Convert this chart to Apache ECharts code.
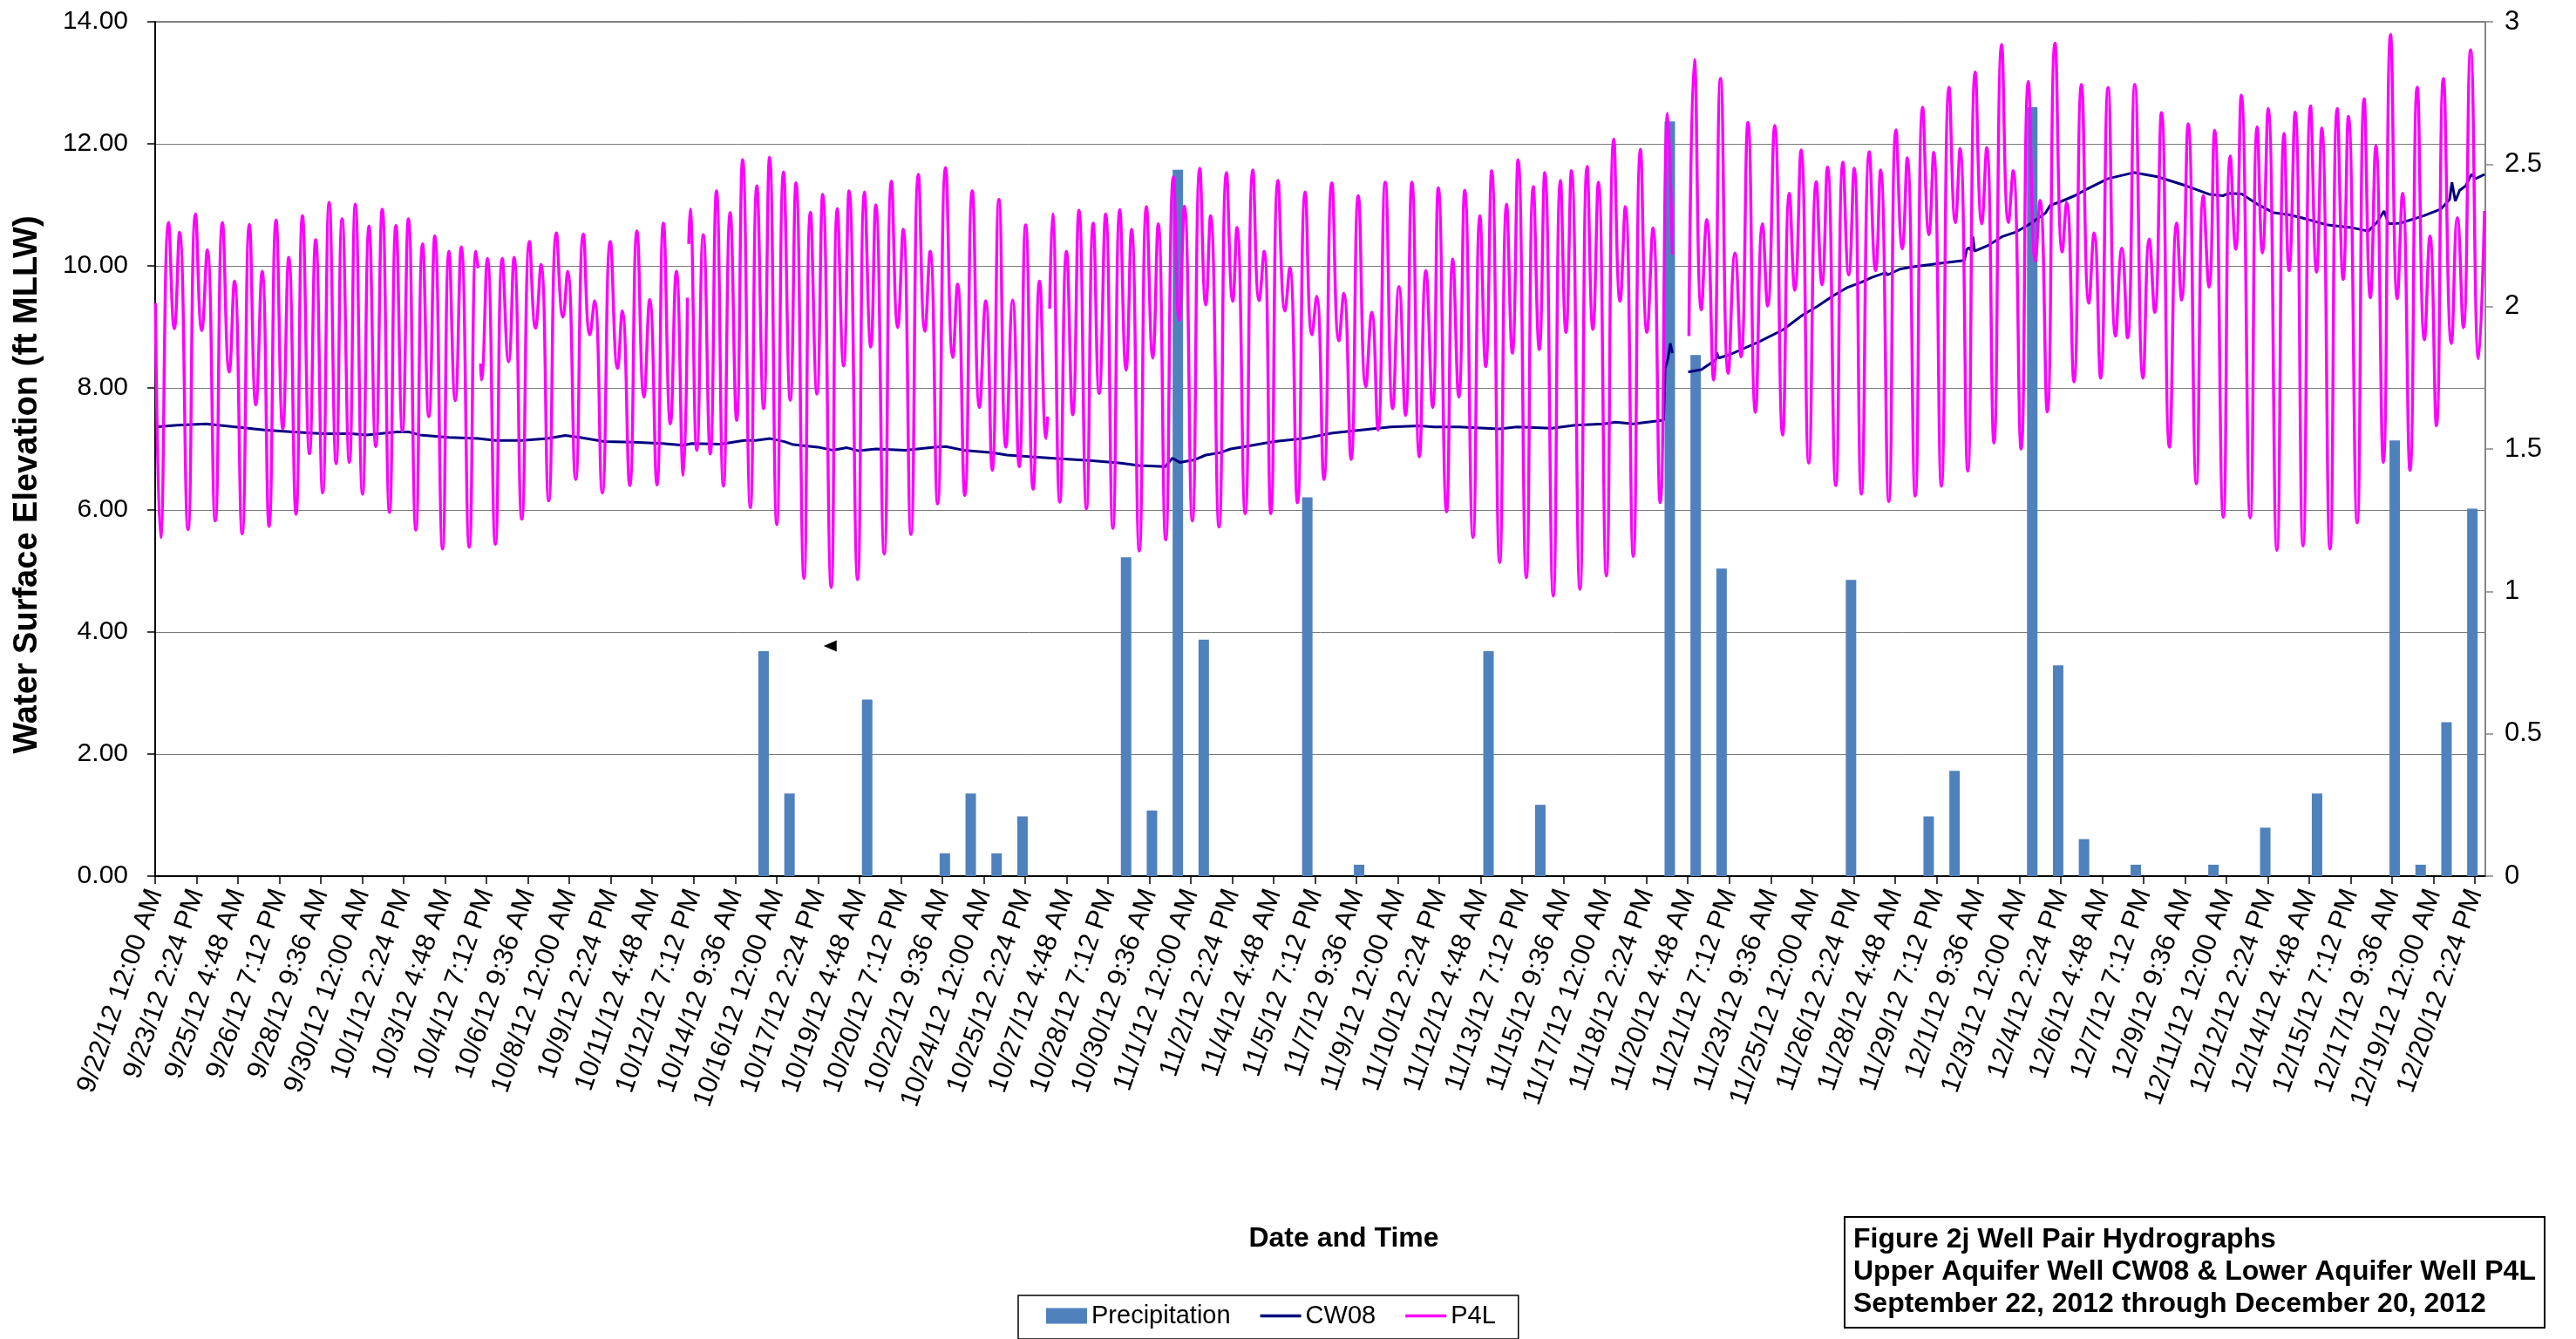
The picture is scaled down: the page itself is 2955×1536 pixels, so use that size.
<!DOCTYPE html>
<html>
<head>
<meta charset="utf-8">
<title>Figure 2j Well Pair Hydrographs</title>
<script src="https://cdn.jsdelivr.net/npm/echarts@6/dist/echarts.min.js"></script>
<style>
html,body{margin:0;padding:0;background:#fff;}
#chart{width:2955px;height:1536px;}
</style>
</head>
<body>
<div id="chart"></div>
<script>
// ---- DATA ----
// time values are days since 9/22/12 12:00 AM
const startDateUTC = Date.UTC(2012, 8, 22);

const precipDates = ['10/15','10/16','10/19','10/22','10/23','10/24','10/25','10/29','10/30','10/31','11/1','11/5','11/7','11/12','11/14','11/19','11/20','11/21','11/26','11/29','11/30','12/3','12/4','12/5','12/7','12/10','12/12','12/14','12/17','12/18','12/19','12/20'];
const precipValues = [0.79,0.29,0.62,0.08,0.29,0.08,0.21,1.12,0.23,2.48,0.83,1.33,0.04,0.79,0.25,2.65,1.83,1.08,1.04,0.21,0.37,2.70,0.74,0.13,0.04,0.04,0.17,0.29,1.53,0.04,0.54,1.29];

const cw08Data = [
[0.01,7.36],[0.85,7.39],[1.97,7.41],[3.10,7.36],[4.22,7.31],[5.34,7.28],[6.46,7.25],[7.59,7.25],[8.15,7.23],
[9.33,7.28],[9.78,7.28],[10.22,7.23],[11.35,7.19],[12.47,7.17],[13.14,7.14],[14.15,7.14],[15.16,7.17],[15.84,7.22],[16.40,7.19],
[17.35,7.12],[18.47,7.11],[19.60,7.09],[20.38,7.06],[20.72,7.09],[21.84,7.08],[22.74,7.14],[23.19,7.14],[23.75,7.17],[24.31,7.12],[24.65,7.07],
[25.60,7.03],[26.16,6.98],[26.72,7.02],[27.17,6.97],[27.85,7.00],[28.97,6.98],[30.09,7.03],[30.54,7.04],[31.21,6.98],[32.33,6.94],[32.90,6.90],
[33.85,6.87],[34.97,6.84],[36.09,6.81],[37.22,6.77],[38.00,6.73],[39.01,6.71],[39.29,6.85],[39.57,6.78],[40.13,6.82],[40.58,6.90],[41.14,6.94],
[41.54,7.00],[42.10,7.04],[43.22,7.12],[44.34,7.17],[45.47,7.26],[46.59,7.31],[47.71,7.36],[48.83,7.38],[49.39,7.36],
[50.35,7.36],[51.92,7.33],[52.59,7.36],[53.94,7.34],[54.84,7.39],[55.96,7.41],[56.41,7.44],[57.08,7.41],[57.64,7.44],
[58.26,7.47],[58.32,8.32],[58.43,8.48],[58.52,8.73],[58.60,8.57],[58.90,null],[59.21,8.26],[59.72,8.30],[60.28,8.46],[60.31,8.58],[60.39,8.49],
[60.84,8.55],[61.96,8.76],[62.86,8.95],[63.65,9.20],[64.21,9.34],[64.77,9.50],[65.33,9.64],[65.89,9.73],
[66.29,9.81],[66.85,9.89],[66.90,9.85],[67.41,9.95],[67.97,9.99],[69.09,10.05],[69.88,10.09],[69.97,10.27],[70.05,10.30],[70.16,10.24],[70.21,10.48],[70.27,10.24],
[70.77,10.33],[71.34,10.48],[71.90,10.56],[72.46,10.70],[73.02,10.87],[73.19,10.99],[73.58,11.05],[74.14,11.15],
[74.53,11.24],[75.43,11.43],[76.44,11.53],[77.34,11.46],[78.46,11.31],[79.36,11.17],[79.87,11.15],[80.09,11.19],[80.59,11.18],[81.16,11.02],[81.83,10.87],[82.39,10.84],
[82.90,10.79],[83.91,10.67],[84.80,10.63],[85.48,10.57],[85.81,10.71],[86.09,10.90],[86.26,10.69],[86.71,10.70],[87.61,10.82],[88.28,10.93],[88.62,11.09],[88.71,11.37],[88.84,11.06],[89.01,11.24],[89.24,11.31],[89.46,11.50],[89.63,11.43],[89.97,11.50]
];

const p4lData = [
[0.01,9.39],[0.21,5.55],[0.52,10.71],[0.74,8.97],[0.94,10.55],[1.27,5.68],[1.56,10.85],[1.80,8.94],[2.01,10.26],[2.32,5.82],
[2.60,10.71],[2.86,8.26],[3.06,9.75],[3.36,5.61],[3.64,10.68],[3.89,7.72],[4.13,9.91],[4.40,5.73],[4.67,10.75],[4.93,7.33],
[5.16,10.14],[5.44,5.93],[5.69,10.82],[5.96,6.92],[6.20,10.43],[6.47,6.28],[6.72,11.04],[6.99,6.76],[7.22,10.77],[7.50,6.78],
[7.73,11.01],[8.01,6.26],
[8.26,10.65],[8.52,7.04],[8.77,10.93],[9.05,5.96],[9.30,10.66],[9.55,7.29],[9.78,10.77],[10.07,5.67],[10.33,10.36],[10.57,7.53],
[10.80,10.49],[11.10,5.36],[11.35,10.24],[11.59,7.79],[11.82,10.31],[12.13,5.39],[12.39,10.24],[12.47,9.96],[12.52,null],[12.57,8.40],
[12.60,8.13],[12.83,10.12],[13.14,5.44],[13.41,10.12],[13.65,8.43],[13.86,10.14],[14.16,5.85],[14.46,10.40],[14.69,8.98],[14.90,10.02],
[15.20,6.15],[15.50,10.54],[15.75,9.16],[15.93,9.91],[16.24,6.50],
[16.54,10.52],[16.79,8.87],[16.97,9.43],[17.27,6.28],[17.58,10.40],[17.86,8.32],[18.04,9.26],[18.33,6.40],[18.61,10.57],[18.88,7.85],
[19.10,9.45],[19.38,6.41],[19.63,10.70],[19.90,7.41],[20.13,9.91],[20.40,6.57],[20.56,9.48],[20.585,null],[20.61,10.36],[20.66,10.93],
[20.92,6.98],[21.17,10.51],[21.44,6.92],[21.68,11.23],[21.95,6.39],[22.21,10.87],[22.46,7.47],[22.69,11.74],[22.99,6.04],[23.24,11.31],
[23.50,7.66],[23.73,11.78],[24.01,5.76],[24.27,11.54],[24.53,7.80],
[24.75,11.36],[25.06,4.88],[25.31,10.88],[25.56,7.90],[25.78,11.17],[26.11,4.73],[26.35,10.94],[26.59,8.36],[26.80,11.23],[27.13,4.86],
[27.40,11.21],[27.64,8.67],[27.83,11.00],[28.16,5.28],[28.44,11.39],[28.68,8.99],[28.89,10.60],[29.19,5.60],[29.48,11.50],[29.73,8.93],
[29.93,10.24],[30.22,6.10],[30.53,11.61],[30.81,8.50],[30.99,9.70],[31.27,6.24],[31.56,11.23],[31.84,7.68],[32.08,9.43],[32.33,6.65],
[32.59,11.09],[32.86,7.03],
[33.12,9.44],[33.37,6.71],[33.62,10.67],[33.91,6.34],[34.16,9.75],[34.41,7.17],[34.47,7.53],[34.51,null],[34.55,9.30],[34.66,10.85],
[34.94,6.13],[35.20,10.24],[35.44,7.56],[35.68,10.91],[35.97,6.02],[36.23,10.70],[36.46,7.91],[36.71,10.85],[36.99,5.70],[37.26,10.92],
[37.50,8.29],[37.71,10.60],[38.01,5.33],[38.29,10.97],[38.53,8.49],[38.74,10.69],[39.03,5.51],[39.33,11.46],[39.55,9.11],[39.75,10.98],
[40.06,5.82],[40.35,11.60],[40.58,9.36],[40.76,10.82],[41.09,5.72],
[41.38,11.53],[41.62,9.42],[41.78,10.63],[42.10,5.94],[42.40,11.57],[42.64,9.43],[42.83,10.24],[43.09,5.94],[43.37,11.40],[43.64,9.26],
[43.82,9.97],[44.12,6.12],[44.42,11.21],[44.68,8.87],[44.86,9.50],[45.14,6.50],[45.45,11.36],[45.72,8.77],[45.91,9.55],[46.19,6.83],
[46.47,11.15],[46.76,8.02],[46.99,9.24],[47.23,7.31],[47.51,11.37],[47.80,7.66],[48.04,9.66],[48.29,7.55],[48.54,11.37],[48.83,6.87],
[49.08,9.92],[49.34,7.68],
[49.56,11.28],[49.88,5.97],[50.12,10.11],[50.35,7.85],[50.58,11.24],[50.90,5.55],[51.17,10.82],[51.39,8.35],[51.62,11.56],[51.93,5.14],
[52.20,11.01],[52.42,8.57],[52.64,11.74],[52.96,4.89],[53.23,11.30],[53.46,8.63],[53.67,11.53],[54.00,4.59],[54.28,11.40],[54.49,8.91],
[54.70,11.56],[55.03,4.70],[55.31,11.63],[55.53,8.96],[55.74,11.37],[56.05,4.92],[56.34,12.08],[56.58,9.42],[56.78,10.97],[57.09,5.24],
[57.37,11.91],[57.62,8.91],
[57.85,10.62],[58.13,6.12],[58.42,12.50],[58.60,10.18],[58.90,null],[59.24,8.85],[59.45,13.38],[59.72,9.28],[59.93,10.76],[60.19,8.13],
[60.46,13.07],[60.76,8.24],[61.02,10.21],[61.25,8.51],[61.52,12.35],[61.81,7.60],[62.08,10.69],[62.28,9.34],[62.55,12.30],[62.86,7.23],
[63.12,11.19],[63.33,9.60],[63.57,11.90],[63.87,6.77],[64.16,11.38],[64.38,9.69],[64.59,11.62],[64.91,6.40],[65.19,11.70],[65.41,9.85],
[65.62,11.60],[65.90,6.26],
[66.21,11.87],[66.45,9.92],[66.64,11.57],[66.96,6.14],[67.24,12.23],[67.48,10.28],[67.67,11.77],[67.98,6.23],[68.27,12.60],[68.51,10.51],
[68.69,11.86],[68.99,6.39],[69.29,12.93],[69.53,10.71],[69.71,11.92],[70.01,6.64],[70.30,13.18],[70.55,10.69],[70.74,11.94],[71.02,7.10],
[71.32,13.63],[71.58,10.71],[71.76,11.56],[72.07,7.00],[72.35,13.02],[72.62,10.08],[72.80,11.07],[73.08,7.61],[73.38,13.65],[73.66,10.23],
[73.83,11.04],[74.11,8.10],
[74.40,12.97],[74.69,9.39],[74.89,10.54],[75.14,8.16],[75.43,12.92],[75.72,8.85],[75.96,10.29],[76.18,8.82],[76.46,12.97],[76.78,8.16],
[77.02,10.44],[77.23,9.24],[77.49,12.51],[77.80,7.03],[78.08,10.70],[78.27,9.44],[78.52,12.33],[78.84,6.43],[79.11,11.15],[79.33,9.65],
[79.54,12.22],[79.88,5.88],[80.15,11.80],[80.36,10.27],[80.57,12.80],[80.92,5.87],[81.19,12.28],[81.39,10.21],[81.61,12.58],[81.95,5.34],
[82.23,12.17],
[82.42,9.92],[82.65,12.52],[82.96,5.41],[83.25,12.62],[83.48,9.90],[83.68,12.26],[84.00,5.36],[84.28,12.58],[84.51,9.78],[84.71,12.45],
[85.05,5.79],[85.32,12.74],[85.56,9.48],[85.77,11.97],[86.06,6.78],[86.34,13.79],[86.60,9.46],[86.80,11.19],[87.09,6.65],[87.37,12.93],
[87.65,8.79],[87.86,10.49],[88.11,7.38],[88.38,13.07],[88.69,8.73],[88.92,10.79],[89.15,8.99],[89.43,13.54],[89.74,8.48],[89.97,10.90]
];

const cursorMark = [26.07, 3.77];

const titleLines = [
  'Figure 2j Well Pair Hydrographs',
  'Upper Aquifer Well CW08 & Lower Aquifer Well P4L',
  'September 22, 2012 through December 20, 2012'
];

// ---- BUILD ----
const FONT = '"Liberation Sans", Arial, sans-serif';
const LINE_ICON = 'path://M0,0h100v7h-100z';
const toSeries = arr => arr.map(p => [p[0], p[1] === null ? '-' : p[1]]);
const precipData = precipDates.map((d, i) => {
  const [m, day] = d.split('/').map(Number);
  return [(Date.UTC(2012, m - 1, day) - startDateUTC) / 864e5 + 0.5, precipValues[i]];
});

function fmtDate(v) {
  const mins = Math.round(v * 1440);
  const d = new Date(startDateUTC + mins * 60000);
  const mo = d.getUTCMonth() + 1, da = d.getUTCDate(), yr = d.getUTCFullYear() % 100;
  const h = d.getUTCHours(), mi = d.getUTCMinutes();
  let h12 = h % 12; if (h12 === 0) h12 = 12;
  return mo + '/' + da + '/' + yr + ' ' + h12 + ':' + String(mi).padStart(2, '0') + ' ' + (h < 12 ? 'AM' : 'PM');
}

const chart = echarts.init(document.getElementById('chart'), null, {renderer: 'canvas'});
chart.setOption({
  animation: false,
  backgroundColor: '#ffffff',
  textStyle: {fontFamily: FONT, color: '#000'},
  title: {
    text: titleLines.join('\n'),
    left: 2116, top: 1396,
    padding: [8, 10, 8, 10],
    borderColor: '#000', borderWidth: 2,
    textStyle: {fontFamily: FONT, fontSize: 32, fontWeight: 'bold', color: '#000', lineHeight: 37}
  },
  legend: {
    data: [
      {name: 'Precipitation', icon: 'rect'},
      {name: 'CW08', icon: LINE_ICON},
      {name: 'P4L', icon: LINE_ICON}
    ],
    symbolKeepAspect: true,
    left: 1168, top: 1486,
    orient: 'horizontal',
    padding: [9, 26, 12, 32],
    itemGap: 34, itemWidth: 47, itemHeight: 18,
    borderColor: '#000', borderWidth: 1.5,
    textStyle: {fontFamily: FONT, fontSize: 29, color: '#000'}
  },
  grid: {
    left: 178, right: 104, top: 25, bottom: 531,
    show: true, borderColor: '#868686', borderWidth: 2, backgroundColor: 'transparent'
  },
  xAxis: {
    type: 'value', min: 0, max: 90, interval: 1.6,
    name: 'Date and Time', nameLocation: 'middle', nameGap: 400,
    nameTextStyle: {fontFamily: FONT, fontSize: 32, fontWeight: 'bold', color: '#000', padding: [0, 0, 0, 54]},
    axisLine: {show: true, onZero: false, lineStyle: {color: '#000', width: 2}},
    axisTick: {show: true, length: 9, lineStyle: {color: '#000', width: 1.5}},
    splitLine: {show: false},
    axisLabel: {
      rotate: 71, margin: 16, fontSize: 31, color: '#000', fontFamily: FONT,
      showMaxLabel: false, formatter: fmtDate
    }
  },
  yAxis: [{
    type: 'value', min: 0, max: 14, interval: 2, position: 'left',
    name: 'Water Surface Elevation (ft MLLW)', nameLocation: 'middle', nameGap: 127, nameRotate: 90,
    nameTextStyle: {fontFamily: FONT, fontSize: 38, fontWeight: 'bold', color: '#000', padding: [0, 82, 0, 0]},
    axisLine: {show: true, lineStyle: {color: '#000', width: 2}},
    axisTick: {show: true, length: 9, lineStyle: {color: '#000', width: 1.5}},
    splitLine: {show: true, lineStyle: {color: '#7a7a7a', width: 1}},
    axisLabel: {fontSize: 30, margin: 31, color: '#000', fontFamily: FONT, formatter: v => v.toFixed(2)}
  }, {
    type: 'value', min: 0, max: 3, interval: 0.5, position: 'right',
    axisLine: {show: true, lineStyle: {color: '#868686', width: 2}},
    axisTick: {show: true, length: 9, lineStyle: {color: '#868686', width: 1.5}},
    splitLine: {show: false},
    axisLabel: {fontSize: 31, margin: 22, color: '#000', fontFamily: FONT}
  }],
  series: [{
    name: 'Precipitation', type: 'bar', yAxisIndex: 1,
    data: precipData, barWidth: 12,
    itemStyle: {color: '#4F81BD'},
    z: 1
  }, {
    name: 'CW08', type: 'line', yAxisIndex: 0,
    data: toSeries(cw08Data), showSymbol: false, symbol: 'none', connectNulls: false,
    lineStyle: {color: '#000080', width: 3}, itemStyle: {color: '#000080'},
    markPoint: {
      symbol: 'triangle', symbolSize: [13, 15], symbolRotate: 90, silent: true,
      label: {show: false}, itemStyle: {color: '#000'},
      data: [{coord: cursorMark}]
    },
    z: 3
  }, {
    name: 'P4L', type: 'line', yAxisIndex: 0,
    data: toSeries(p4lData), showSymbol: false, symbol: 'none', connectNulls: false,
    smooth: 0.5,
    lineStyle: {color: '#FF00FF', width: 3.5}, itemStyle: {color: '#FF00FF'},
    z: 4
  }]
});
</script>
</body>
</html>
